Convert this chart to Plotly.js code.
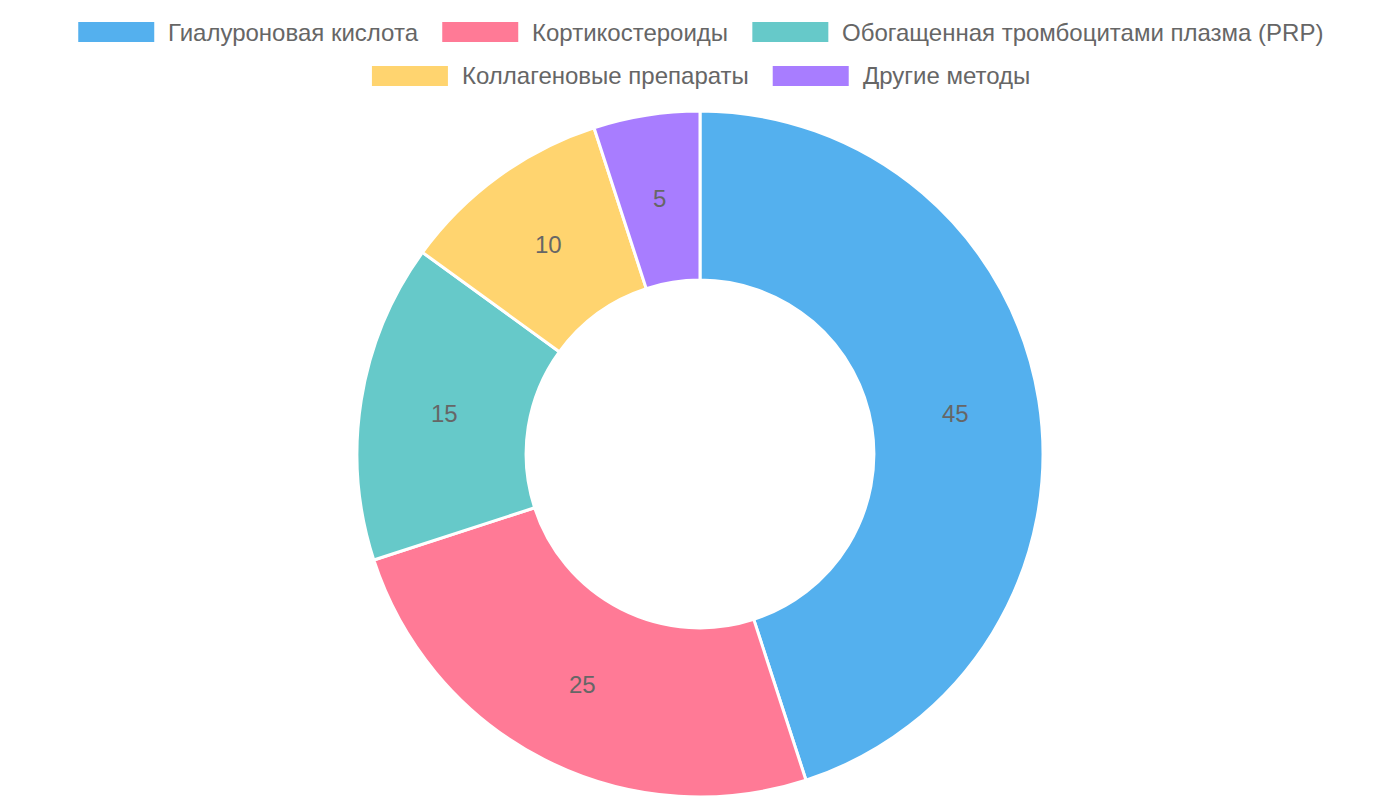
<!DOCTYPE html>
<html>
<head>
<meta charset="utf-8">
<script src="https://cdn.plot.ly/plotly-3.0.1.min.js"></script>
<style>html,body{margin:0;padding:0;background:#fff;}#chart{width:1400px;height:800px;}</style>
</head>
<body>
<div id="chart"></div>
<script>
const labels = ["Гиалуроновая кислота", "Кортикостероиды", "Обогащенная тромбоцитами плазма (PRP)", "Коллагеновые препараты", "Другие методы"];
const values = [45, 25, 15, 10, 5];
const colors = ["#54B0EE", "#FF7A96", "#66C9C9", "#FFD46F", "#A87DFF"];

const W = 1400, H = 800;
const FONT = "Liberation Sans, Arial, sans-serif";
const legendFontSize = 24;
const boxW = 76, boxH = 20, textGap = 12, itemGap = 26;
const rows = [[0, 1, 2], [3, 4]];
const rowY = [32, 76];

const ctx = document.createElement("canvas").getContext("2d");
ctx.font = legendFontSize + "px 'Liberation Sans'";

const shapes = [];
const annotations = [];
rows.forEach((row, r) => {
  const widths = row.map(i => boxW + textGap + ctx.measureText(labels[i]).width);
  const total = widths.reduce((a, b) => a + b, 0) + itemGap * (row.length - 1);
  let x = W / 2 - total / 2;
  row.forEach((i, k) => {
    const cy = rowY[r];
    shapes.push({
      type: "rect", xref: "paper", yref: "paper",
      x0: x / W, x1: (x + boxW) / W,
      y0: 1 - (cy + boxH / 2) / H, y1: 1 - (cy - boxH / 2) / H,
      fillcolor: colors[i], line: {width: 0}
    });
    annotations.push({
      xref: "paper", yref: "paper",
      x: (x + boxW + textGap) / W, y: 1 - cy / H,
      xanchor: "left", yanchor: "middle",
      text: labels[i], showarrow: false,
      font: {family: FONT, size: legendFontSize, color: "#666666"}
    });
    x += widths[k] + itemGap;
  });
});

// pie geometry (domain in pixels)
const pieTop = 111, pieBottom = 797, hole = 0.507;
const cx = W / 2, cy = (pieTop + pieBottom) / 2;
const R = (pieBottom - pieTop) / 2;
const rMid = R * (1 + hole) / 2;

// value labels at mid-angle / mid-radius of each slice (Chart.js-style)
const total = values.reduce((a, b) => a + b, 0);
let cum = 0;
values.forEach((v) => {
  const a = 2 * Math.PI * (cum + v / 2) / total;
  cum += v;
  const px = cx + rMid * Math.sin(a);
  const py = cy - rMid * Math.cos(a);
  annotations.push({
    xref: "paper", yref: "paper",
    x: px / W, y: 1 - py / H,
    xanchor: "center", yanchor: "middle",
    text: String(v), showarrow: false,
    font: {family: FONT, size: 24, color: "#666666"}
  });
});

const trace = {
  type: "pie",
  labels: labels,
  values: values,
  hole: hole,
  sort: false,
  direction: "clockwise",
  rotation: 0,
  marker: {colors: colors, line: {color: "#ffffff", width: 3}},
  textinfo: "none",
  hoverinfo: "none",
  domain: {x: [0, 1], y: [1 - pieBottom / H, 1 - pieTop / H]}
};

const layout = {
  width: W, height: H,
  margin: {l: 0, r: 0, t: 0, b: 0},
  paper_bgcolor: "#ffffff",
  showlegend: false,
  shapes: shapes,
  annotations: annotations,
  font: {family: FONT}
};

Plotly.newPlot("chart", [trace], layout, {displayModeBar: false, staticPlot: true});
</script>
</body>
</html>
